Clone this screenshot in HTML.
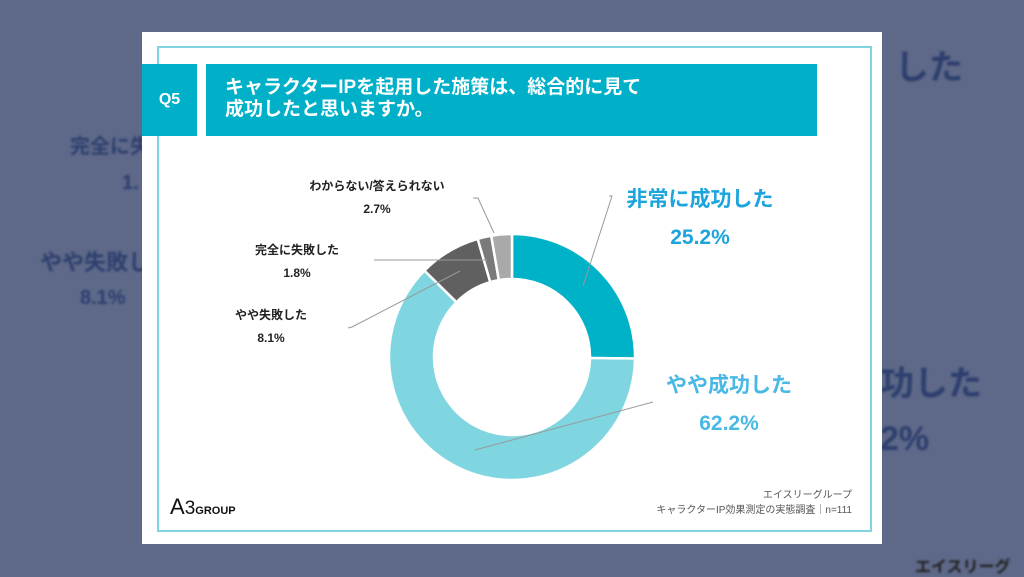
<!DOCTYPE html>
<html><head><meta charset="utf-8"><style>
body{margin:0;width:1024px;height:576px;overflow:hidden;background:#5e6888;font-family:"Liberation Sans","Noto Sans CJK JP",sans-serif;position:relative}
.bg{position:absolute;color:#2d3f6e;font-weight:bold;filter:blur(1px);white-space:nowrap}
.card{position:absolute;left:142px;top:32px;width:740px;height:512px;background:#fff}
.frame{position:absolute;left:15px;top:14px;width:715px;height:486px;border:2px solid #7fd6e0;box-sizing:border-box}
.q5{position:absolute;left:0;top:32px;width:55px;height:72px;background:#00b0c8;color:#fff;font-weight:bold;font-size:16px;line-height:72px;text-align:center}
.title{position:absolute;left:64px;top:32px;width:611px;height:72px;background:#00b0c8;color:#fff;font-weight:bold;font-size:19px;line-height:22px;box-sizing:border-box;padding:13px 0 0 19px}
.t{position:absolute;text-align:center;font-weight:bold;white-space:nowrap;transform:translateX(-50%)}
</style></head><body>
<div class="bg" style="left:895px;top:40px;font-size:34px">した</div>
<div class="bg" style="left:70px;top:130px;font-size:20px">完全に失</div>
<div class="bg" style="left:122px;top:172px;font-size:20px">1.</div>
<div class="bg" style="left:40px;top:245px;font-size:22px">やや失敗し</div>
<div class="bg" style="left:80px;top:287px;font-size:20px">8.1%</div>
<div class="bg" style="left:880px;top:356px;font-size:34px">功した</div>
<div class="bg" style="left:880px;top:420px;font-size:34px">2%</div>
<div class="bg" style="left:915px;top:553px;font-size:16px;color:#222">エイスリーグ</div>
<div class="card">
<div class="frame"></div>
<div class="q5">Q5</div>
<div class="title">キャラクターIPを起用した施策は、総合的に見て<br>成功したと思いますか。</div>
<svg style="position:absolute;left:0;top:0" width="740" height="512" viewBox="142 32 740 512">
<g stroke="#fff" stroke-width="2.5">
<path d="M512 234 A123 123 0 0 1 634.99 358.55 L589.99 357.98 A78 78 0 0 0 512 279Z" fill="#00b2c8"/>
<path d="M634.99 358.55 A123 123 0 1 1 424.46 270.59 L456.49 302.2 A78 78 0 1 0 589.99 357.98Z" fill="#7fd6e0"/>
<path d="M424.46 270.59 A123 123 0 0 1 477.68 238.88 L490.24 282.1 A78 78 0 0 0 456.49 302.2Z" fill="#606060"/>
<path d="M477.68 238.88 A123 123 0 0 1 491.23 235.77 L498.83 280.12 A78 78 0 0 0 490.24 282.1Z" fill="#7a7a7a"/>
<path d="M491.23 235.77 A123 123 0 0 1 512 234 L512 279 A78 78 0 0 0 498.83 280.12Z" fill="#a9a9a9"/>
</g>
<g stroke="#999" stroke-width="1" fill="none">
<polyline points="473,198 478,198 494,233"/>
<line x1="374" y1="260" x2="487" y2="260"/>
<polyline points="348,328 352,327 460,271"/>
<polyline points="609,196 612,196 583,286"/>
<line x1="653" y1="402" x2="475" y2="450"/>
</g>
</svg>
<div class="t" style="left:235px;top:143px;font-size:12px;line-height:23px;color:#222">わからない/答えられない<br>2.7%</div>
<div class="t" style="left:155px;top:207px;font-size:12px;line-height:23px;color:#222">完全に失敗した<br>1.8%</div>
<div class="t" style="left:129px;top:272px;font-size:12px;line-height:23px;color:#222">やや失敗した<br>8.1%</div>
<div class="t" style="left:558px;top:149px;font-size:21px;line-height:38px;color:#1ba5dc">非常に成功した<br>25.2%</div>
<div class="t" style="left:587px;top:335px;font-size:21px;line-height:38px;color:#49b9e4">やや成功した<br>62.2%</div>
<div style="position:absolute;left:28px;top:462px;font-size:22px;color:#111">A<span style="font-size:19px">3</span><span style="font-size:11px;font-weight:bold">GROUP</span></div>
<div style="position:absolute;right:30px;top:456px;font-size:10px;line-height:15px;color:#555;text-align:right">エイスリーグループ<br>キャラクターIP効果測定の実態調査｜n=111</div>
</div>
</body></html>
